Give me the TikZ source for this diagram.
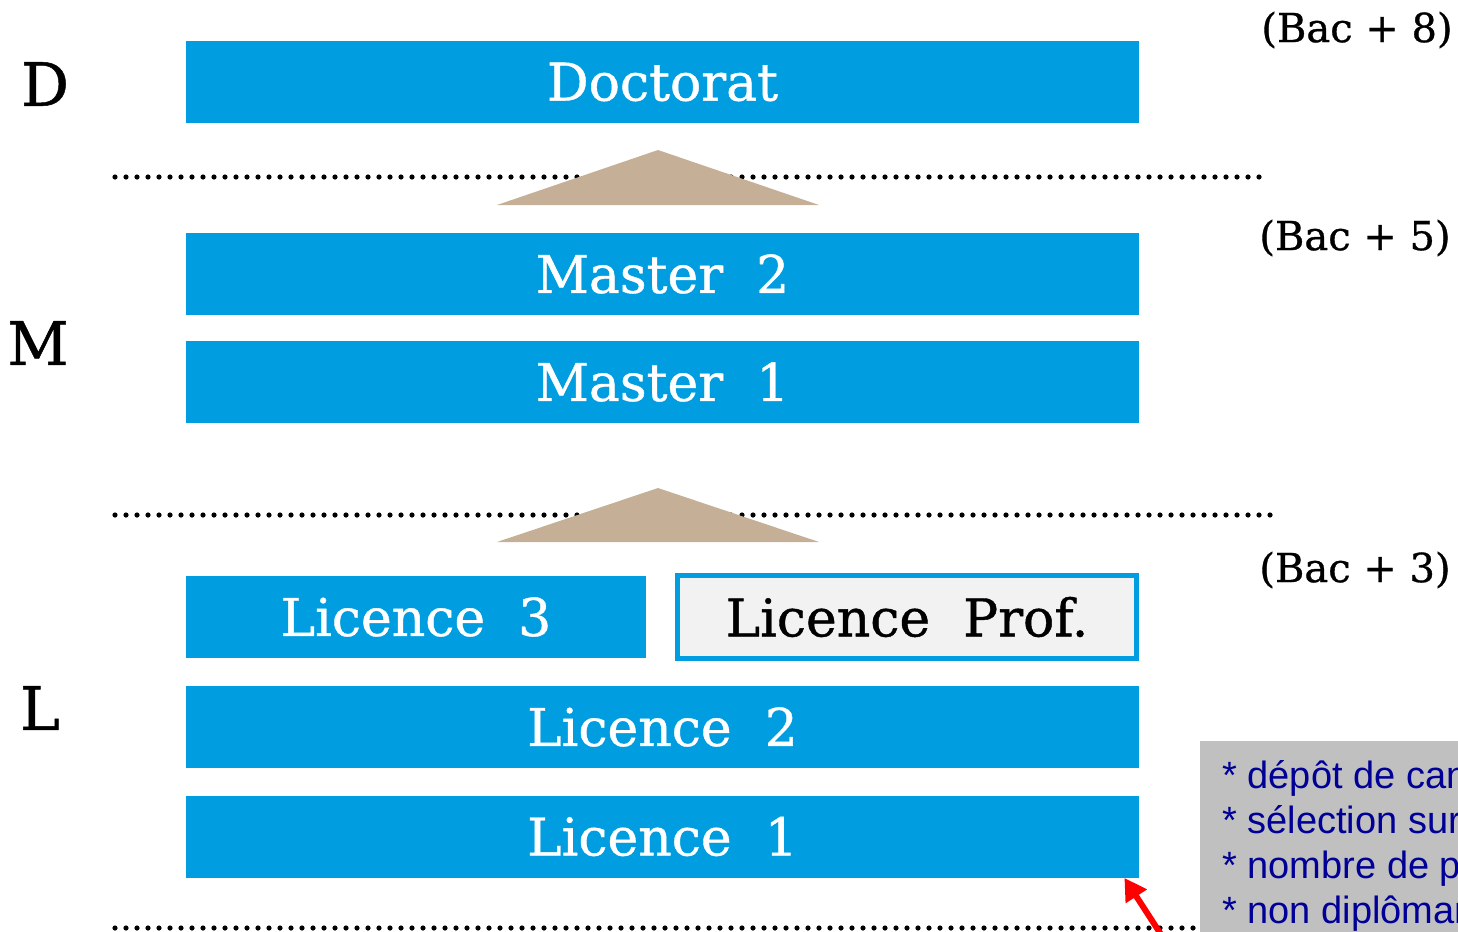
\documentclass[tikz,border=0pt]{standalone}
\usepackage{fontspec}
\setmainfont{DejaVu Serif}[FakeBold=0.8]
\newfontfamily\notefont{Liberation Sans}
\usepackage{tikz}
\usetikzlibrary{arrows.meta}
\usepackage{tkz-euclide}
\definecolor{cursus}{RGB}{0,158,224}
\definecolor{sable}{RGB}{197,176,151}
\definecolor{clair}{RGB}{242,242,242}
\definecolor{gris}{RGB}{192,192,192}
\definecolor{marine}{RGB}{0,0,150}

\begin{document}
\begin{tikzpicture}[x=0.5pt,y=-0.5pt,
 annee/.style={fill=cursus,text=white,inner sep=0pt,minimum width=476.5pt,minimum height=41pt,font=\fontsize{26}{26}\selectfont},
 niveau/.style={inner sep=0pt,font=\fontsize{30}{30}\selectfont},
 bac/.style={inner sep=0pt,font=\fontsize{20}{20}\selectfont},
 pointille/.style={line width=2.6pt,line cap=round,dash pattern=on 0pt off 5.5pt}]
\useasboundingbox (0,0) rectangle (1458,932);
\tkzDefPoints{115/177/P1,1268/177/P2,115/515/P3,1273/515/P4,115/928/P5,1198/928/P6}
\tkzDefPoints{658/150/T1,497/205/T2,819/205/T3,658/488/T4,497/542/T5,819/542/T6}
\draw[pointille](P1)--(P2)(P3)--(P4)(P5)--(P6);
\tkzDrawPolygon[draw=none,fill=sable](T1,T2,T3)
\tkzDrawPolygon[draw=none,fill=sable](T4,T5,T6)
% les annees
\node[annee] (doc) at (662.5,82) {Doctorat};
\node[annee] (m2) at (662.5,274) {Master\ \ 2};
\node[annee] (m1) at (662.5,382) {Master\ \ 1};
\node[annee,minimum width=230pt] (l3) at (416,617) {Licence\ \ 3};
\node[annee,fill=clair,draw=cursus,line width=2.5pt,text=black,minimum width=229.5pt,minimum height=41.5pt] (lpro) at (907,617) {Licence\ \ Prof.};
\node[annee] (l2) at (662.5,727) {Licence\ \ 2};
\node[annee] (l1) at (662.5,836.5) {Licence\ \ 1};
% LMD
\node[niveau] (nd) at (45,84) {D};
\node[niveau] (nm) at (38,343) {M};
\node[niveau] (nl) at (40,708) {L};
\node[bac] (b8) at (1357,30) {(Bac + 8)};
\node[bac] (b5) at (1355,238) {(Bac + 5)};
\node[bac] (b3) at (1355,570) {(Bac + 3)};
% encadre
\fill[gris] (1200,741) rectangle (1458,932);
\node[anchor=north west,inner sep=0pt,align=left,text=marine,font=\notefont\fontsize{19}{22.5}\selectfont] (note) at (1222,760)
 {* dépôt de can\\* sélection sur\\* nombre de pl\\* non diplôman};
\coordinate (fl) at (1162,936);
\draw[red,line width=3pt,-{Triangle[length=11pt,width=12pt]}] (fl) -- ([xshift=-7.5pt]l1.south east);
\end{tikzpicture}
\end{document}
